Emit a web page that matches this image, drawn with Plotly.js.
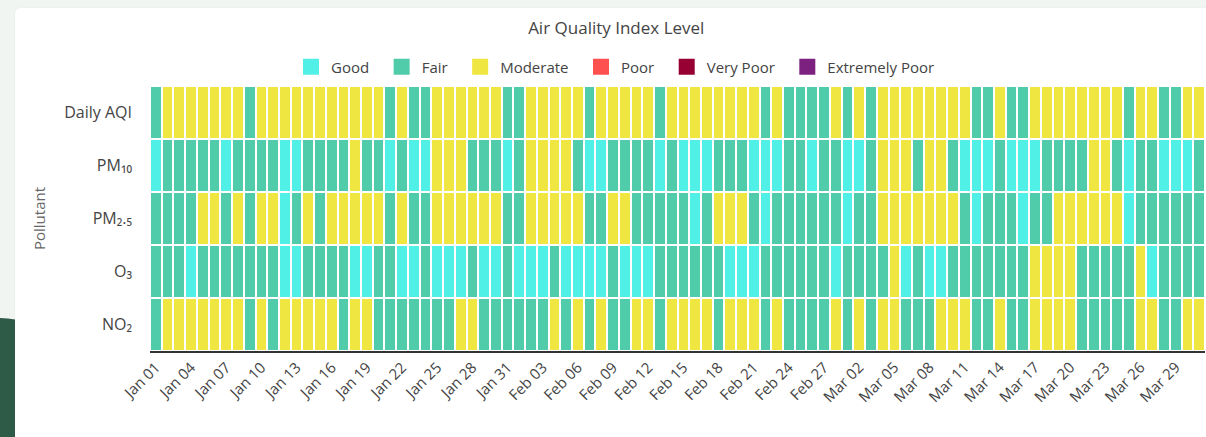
<!DOCTYPE html>
<html>
<head>
<meta charset="utf-8">
<script src="https://cdn.plot.ly/plotly-3.0.1.min.js"></script>
<style>
  html, body { margin: 0; padding: 0; width: 1206px; height: 437px; overflow: hidden; background: #f1f5f1; }
  #deco { position: absolute; left: -20px; top: 318px; width: 60px; height: 140px; background: #2e5a48; border-top-right-radius: 40px 20px; }
  #card { position: absolute; left: 15px; top: 8px; width: 1230px; height: 460px; background: #ffffff; border-radius: 6px; box-shadow: 0 0 2px rgba(0,0,0,0.06); }
  #chart { position: absolute; left: 0; top: 0; width: 1206px; height: 437px; }
</style>
</head>
<body>
<div id="deco"></div>
<div id="card"></div>
<div id="chart"></div>
<script>
// Level codes per day, Jan 01 .. Mar 31 (G = Good, F = Fair, M = Moderate)
const startDate = '2023-01-01';
const dayCount = 90;
const dailyAQI = "FMMMMMMMFM" + "MMMMMMMMMM" + "FMFFMMMMMM" + "FFMMMMMFMM" + "MMMFMMMMMM" + "MMFMFFFFMF" + "MFMMMMMMMM" + "FFMFFMMMMM" + "MMMFMMFFMM";
const pm10     = "GFFFFFGFFF" + "FGGFFFFMFF" + "GFGGMMMFFF" + "GFMMMMFGGF" + "FFFGFGGGFF" + "FGGGFFGFFG" + "GFMMMFMMFG" + "GGFGGGFFFF" + "MMFGFFGGGF";
const pm25     = "FFFFMMFMFM" + "MGFMFMMMMM" + "FMFFMMMMMM" + "FFMMMMMFFM" + "MFFFFFGFMM" + "MFGFFFFFFG" + "FFMMMMMMMF" + "GFFFGFFMMM" + "MMMGFFFFFF";
const o3       = "FFFGFFFFFF" + "FGGFFFFGGF" + "FGGFGGGFGG" + "FGGGFGGGGF" + "GGGFFFFFFG" + "GGFFFFFFGF" + "FFFMGFGGFF" + "FFFFFMMMMF" + "FFFFMGFFFF";
const no2      = "FMMMMMMMFM" + "FMMMMMFMMF" + "FFFFFFMMFF" + "FFFFMFMFMF" + "FMMFMMMMFM" + "MMFMFFFFMF" + "MFMMFFFMMM" + "FFMFFMMMMF" + "FFFFMMFFMM";

const pollutants = ['Daily AQI', 'PM\u2081\u2080', 'PM\u2082.\u2085', 'O\u2083', 'NO\u2082'];
const rows = [dailyAQI, pm10, pm25, o3, no2];
const levelNames = ['Good', 'Fair', 'Moderate', 'Poor', 'Very Poor', 'Extremely Poor'];
const levelCodes = ['G', 'F', 'M', 'P', 'V', 'E'];
const levelColors = ['#50F0E6', '#50CCAA', '#F0E641', '#FF5050', '#960032', '#7D2181'];

// dates
const dates = [];
const d0 = new Date(startDate + 'T00:00:00Z');
for (let i = 0; i < dayCount; i++) {
  const d = new Date(d0.getTime() + i * 86400000);
  dates.push(d.toISOString().slice(0, 10));
}
const z = rows.map(r => r.split('').map(c => levelCodes.indexOf(c)));
const text = rows.map(r => r.split('').map(c => levelNames[levelCodes.indexOf(c)]));

const n = levelColors.length;
const colorscale = [];
levelColors.forEach((c, i) => {
  colorscale.push([i / n, c]);
  colorscale.push([(i + 1) / n, c]);
});

const traces = [{
  type: 'heatmap',
  x: dates,
  y: pollutants,
  z: z,
  text: text,
  zmin: -0.5,
  zmax: n - 0.5,
  colorscale: colorscale,
  showscale: false,
  xgap: 2,
  ygap: 2,
  hovertemplate: '%{y}<br>%{x}<br>%{text}<extra></extra>',
  showlegend: false
}];
levelNames.forEach((name, i) => {
  traces.push({
    type: 'scatter',
    mode: 'markers',
    x: [null], y: [null],
    name: name + '\u2002',
    marker: { symbol: 'square', size: 18, color: levelColors[i] },
    showlegend: true
  });
});

const plotL = 150, plotR = 1205;
const pxToPaper = px => (px - plotL) / (plotR - plotL);

const layout = {
  width: 1206,
  height: 437,
  margin: { l: plotL, r: 1206 - plotR, t: 86, b: 86, autoexpand: false },
  paper_bgcolor: 'rgba(0,0,0,0)',
  plot_bgcolor: '#ffffff',
  font: { family: '"Segoe UI", "Open Sans", "Noto Sans", sans-serif', color: '#444', size: 15 },
  title: { text: 'Air Quality Index Level', x: 0.511, xref: 'container', xanchor: 'center', y: 0.936, yref: 'container', yanchor: 'middle', font: { size: 17, color: '#444' } },
  legend: { orientation: 'h', x: pxToPaper(291), xref: 'paper', xanchor: 'left', y: 1.072, yref: 'paper', yanchor: 'middle', font: { size: 15, color: '#444' }, itemclick: false, itemdoubleclick: false },
  xaxis: {
    type: 'date',
    range: ['2022-12-31 12:00', '2023-03-31 12:00'],
    tick0: startDate,
    dtick: 3 * 86400000,
    tickformat: '%b %d',
    tickangle: -45,
    tickfont: { size: 15, color: '#444' },
    showgrid: false,
    zeroline: false,
    showline: true,
    linecolor: '#333',
    linewidth: 1.5,
    ticks: '',
    automargin: false
  },
  yaxis: {
    type: 'category',
    autorange: 'reversed',
    showgrid: false,
    zeroline: false,
    ticks: '',
    ticklabelstandoff: 17,
    automargin: false,
    tickfont: { size: 16, color: '#444' },
    title: { text: 'Pollutant', font: { size: 15, color: '#666' }, standoff: 14 }
  }
};

Plotly.newPlot('chart', traces, layout, { displayModeBar: false });
</script>
</body>
</html>
